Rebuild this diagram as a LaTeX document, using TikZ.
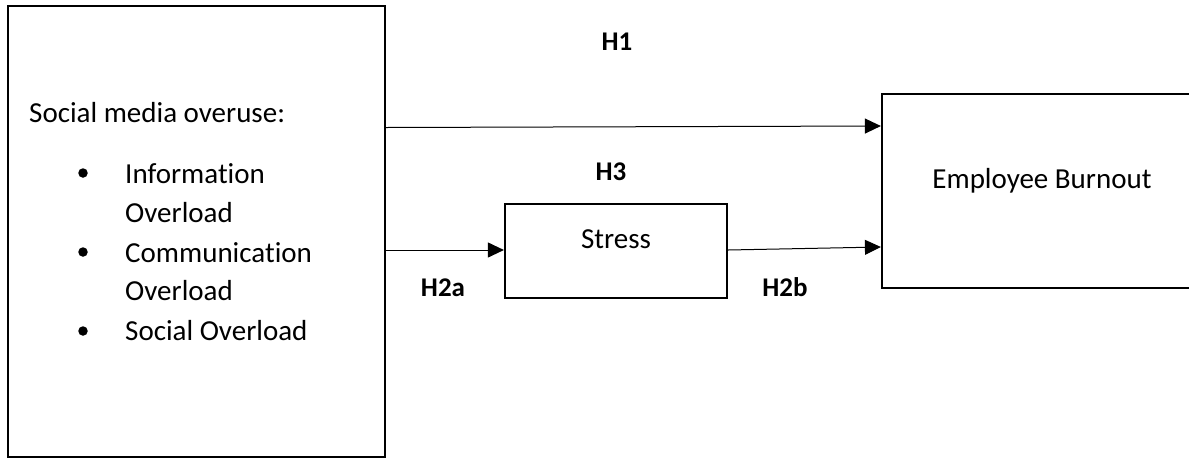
\documentclass[tikz,border=0pt]{standalone}
\usepackage{fontspec}
\setmainfont{Carlito}[Ligatures={NoCommon,NoContextual}]
\usetikzlibrary{arrows.meta}
\begin{document}
\begin{tikzpicture}[x=1pt,y=-1pt,
  box/.style={draw, line width=2.2pt, inner sep=0pt},
  conn/.style={line width=1.0pt, -{Triangle[length=16pt,width=15pt]}},
  txt/.style={font=\fontsize{29}{39}\selectfont, inner sep=0pt},
  lbl/.style={font=\fontsize{27}{32}\selectfont\bfseries, inner sep=0pt, anchor=base},
  dot/.style={circle, fill, inner sep=0pt, minimum size=9.5pt}]
\useasboundingbox (0,0) rectangle (1189,459);
\clip (0,0) rectangle (1189,459);
% boxes
\node[box, minimum width=377pt, minimum height=451pt] (left) at (196.5,231.5) {};
\node[box, minimum width=330pt, minimum height=194pt] (right) at (1047,191) {};
\node[box, minimum width=222pt, minimum height=94pt] (stress) at (616,251) {};
% texts in left box
\node[txt, anchor=base west] (head) at (29,122) {Social media overuse:};
\node[dot] (b1) at (83,173) {};
\node[dot] (b2) at (83,252) {};
\node[dot] (b3) at (83,331) {};
\node[txt, anchor=base west] (t1) at (125,183) {Information};
\node[txt, anchor=base west] (t2) at (125,222) {Overload};
\node[txt, anchor=base west] (t3) at (125,262) {Communication};
\node[txt, anchor=base west] (t4) at (125,300) {Overload};
\node[txt, anchor=base west] (t5) at (125,340) {Social Overload};
% other texts
\node[txt, anchor=base] (burn) at (1042,188) {Employee Burnout};
\node[txt, anchor=base] (st) at (616,248) {Stress};
\node[lbl] (h1) at (617,50) {H1};
\node[lbl] (h3) at (611,180) {H3};
\node[lbl] (h2a) at (443,296) {H2a};
\node[lbl] (h2b) at (785,296) {H2b};
% connectors
\coordinate (ya) at (0,127.5);
\coordinate (yb) at (0,126);
\coordinate (yc) at (0,250);
\coordinate (yd) at (0,247);
\draw[conn] (left.east |- ya) -- (right.west |- yb);
\draw[conn] (left.east |- yc) -- (stress.west |- yc);
\draw[conn] (stress.east |- yc) -- (right.west |- yd);
\end{tikzpicture}
\end{document}
